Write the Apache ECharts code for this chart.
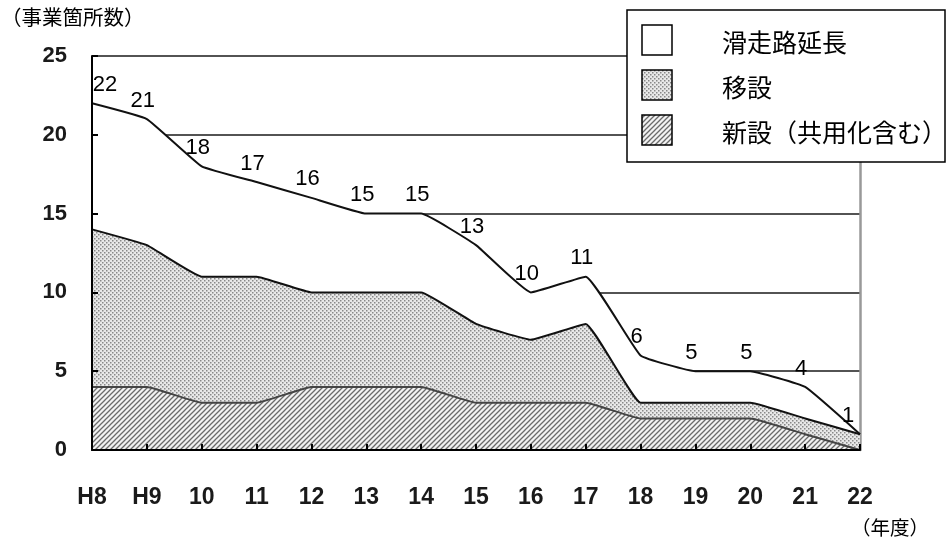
<!DOCTYPE html>
<html><head><meta charset="utf-8">
<script src="https://cdn.jsdelivr.net/npm/echarts@6/dist/echarts.min.js"></script>
<style>html,body{margin:0;padding:0;background:#fff}#c{width:950px;height:541px}</style>
</head><body><div id="c"></div>
<script>
// ---- data ----
const categories = ['H8','H9','10','11','12','13','14','15','16','17','18','19','20','21','22'];
const totalCount = [22,21,18,17,16,15,15,13,10,11,6,5,5,4,1];
const newCount = [4,4,3,3,4,4,4,3,3,3,2,2,2,1,0];
const relocCount = [10,9,8,8,6,6,6,5,4,5,1,1,1,1,1];
const extendCount = [8,8,7,6,6,5,5,5,3,3,3,2,2,2,0];
const seriesNames = ['滑走路延長','移設','新設（共用化含む）'];
const yAxisTitle = '（事業箇所数）';
const xAxisTitle = '（年度）';

// ---- patterns ----
function dotPattern(){
  const c = document.createElement('canvas'); c.width = 4; c.height = 4;
  const g = c.getContext('2d');
  g.fillStyle = '#e8e8e8'; g.fillRect(0,0,4,4);
  g.fillStyle = '#888888';
  g.fillRect(0,0,1.5,1.5); g.fillRect(2,2,1.5,1.5);
  return {image: c, repeat: 'repeat'};
}
function hatchPattern(){
  const s = 5;
  const c = document.createElement('canvas'); c.width = s; c.height = s;
  const g = c.getContext('2d');
  g.fillStyle = '#f2f2f2'; g.fillRect(0,0,s,s);
  g.strokeStyle = '#6a6a6a'; g.lineWidth = 1.3;
  g.beginPath();
  g.moveTo(-1, s+1); g.lineTo(s+1, -1);
  g.moveTo(-1, 1); g.lineTo(1, -1);
  g.moveTo(s-1, s+1); g.lineTo(s+1, s-1);
  g.stroke();
  return {image: c, repeat: 'repeat'};
}
const dots = dotPattern();
const hatch = hatchPattern();

const chart = echarts.init(document.getElementById('c'), null, {renderer: 'canvas'});
const lastIdx = categories.length - 1;
const numFont = 'Liberation Sans, Arial, sans-serif';
const cjkFont = 'Noto Sans CJK JP, sans-serif';

const legendFills = ['#ffffff', dots, hatch];
const legendRows = [40, 85, 130];
const legendGraphics = [
  {type:'rect', shape:{x:627, y:10, width:318, height:152}, style:{fill:'#fff', stroke:'#000', lineWidth:1.5}, z:100}
];
seriesNames.forEach((n, i) => {
  legendGraphics.push({type:'rect', shape:{x:642, y:legendRows[i]-15, width:30, height:30},
    style:{fill: legendFills[i], stroke:'#000', lineWidth:1.5}, z:101});
  legendGraphics.push({type:'text', x:722, y:legendRows[i]+2,
    style:{text:n, fontSize:25, fontFamily:cjkFont, fill:'#000', verticalAlign:'middle', align:'left'}, z:101});
});

const common = {type:'line', stack:'total', smooth:0.1, symbol:'circle', symbolSize:1, showSymbol:true,
  itemStyle:{color:'rgba(0,0,0,0)'}, emphasis:{disabled:true}, yAxisIndex:0};

const option = {
  animation:false,
  grid:{left:92, right:90, top:56, bottom:91, containLabel:false},
  xAxis:{type:'category', data:categories, boundaryGap:false, z:5,
    axisLine:{lineStyle:{color:'#000', width:2}},
    axisTick:{show:true, inside:true, length:6, lineStyle:{color:'#000', width:2}},
    axisLabel:{margin:36, fontSize:23, fontWeight:'bold', color:'#1a1a1a', fontFamily:numFont},
    splitLine:{show:false}},
  yAxis:[
    {type:'value', min:0, max:25, interval:5, position:'left', z:5,
      axisLine:{show:true, lineStyle:{color:'#000', width:2}},
      axisTick:{show:true, inside:true, length:6, lineStyle:{color:'#000', width:2}},
      axisLabel:{margin:25, fontSize:22, fontWeight:'bold', color:'#1a1a1a', fontFamily:numFont},
      splitLine:{show:false}},
    {type:'value', min:0, max:25, interval:5, position:'right', z:0,
      axisLine:{show:true, lineStyle:{color:'#999', width:2.5}},
      axisTick:{show:false}, axisLabel:{show:false},
      splitLine:{show:true, lineStyle:{color:'#1a1a1a', width:1.5}}}
  ],
  graphic:[
    {type:'text', left:1, top:7, style:{text:yAxisTitle, fontSize:20.5, fontFamily:cjkFont, fill:'#000'}},
    {type:'text', left:851, top:518, style:{text:xAxisTitle, fontSize:19.5, fontFamily:cjkFont, fill:'#000'}},
    ...legendGraphics
  ],
  series:[
    Object.assign({}, common, {name:seriesNames[2], data:newCount,
      lineStyle:{color:'#444', width:2}, areaStyle:{color:hatch, opacity:1}}),
    Object.assign({}, common, {name:seriesNames[1], data:relocCount,
      lineStyle:{color:'#111', width:2}, areaStyle:{color:dots, opacity:1}}),
    Object.assign({}, common, {name:seriesNames[0],
      data: extendCount.map((v, i) => ({value:v,
        label:{offset: i === 0 ? [13, 0] : (i === lastIdx ? [-12, 0] : [-4, 0])}})),
      lineStyle:{color:'#111', width:2}, areaStyle:{color:'#fff', opacity:1},
      label:{show:true, position:'top', distance:7, fontSize:22, color:'#000', fontFamily:numFont,
        formatter: p => String(totalCount[p.dataIndex])}})
  ]
};
chart.setOption(option);
</script>
</body></html>
